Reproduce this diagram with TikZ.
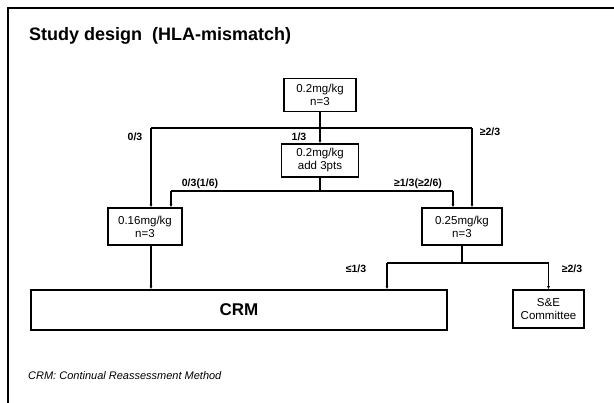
\documentclass[tikz,border=0pt]{standalone}
\usepackage{fontspec}
\setmainfont{Liberation Sans}
\usetikzlibrary{arrows.meta}
\begin{document}
\begin{tikzpicture}[x=1pt,y=-1pt,
  box/.style={draw, line width=1.5pt, inner sep=0pt, align=center,
              font=\fontsize{11.5}{13}\selectfont},
  link/.style={line width=1.2pt},
  tip/.style={link, -{Latex[length=3pt,width=3pt]}},
  lbl/.style={font=\bfseries\fontsize{10.5}{13}\selectfont, inner sep=0pt}]
\useasboundingbox (0,0) rectangle (614,403);
\fill[white] (0,0) rectangle (614,403);
% slide frame (top and left edges)
\draw[line width=1.6pt] (614,8) -- (8,8) -- (8,403);
\node[anchor=base west, inner sep=0pt, font=\bfseries\fontsize{18}{20}\selectfont]
  (title) at (29,41) {Study design\ \ (HLA-mismatch)};

% dose boxes
\node[box, minimum width=72pt, minimum height=33pt] (top)  at (320,95) {0.2mg/kg\\n=3};
\node[box, minimum width=77pt, minimum height=33pt] (mid)  at (320,160.5) {0.2mg/kg\\add 3pts};
\node[box, minimum width=74pt, minimum height=37pt] (low)  at (145,226.5) {0.16mg/kg\\n=3};
\node[box, minimum width=80pt, minimum height=37pt] (high) at (462,226.5) {0.25mg/kg\\n=3};
\node[box, line width=1.7pt, minimum width=416pt, minimum height=40pt,
      font=\bfseries\fontsize{17}{20}\selectfont] (crm) at (239,310) {CRM};
\node[box, minimum width=71pt, minimum height=38pt] (se) at (548.5,309) {S\&E\\Committee};

% first branching
\coordinate (jTop) at (320,128);
\coordinate (jL) at (151,128);
\coordinate (jR) at (472,128);
\draw[link] (top.south) -- (jTop);
\draw[link] (jL) -- (jR);
\draw[tip] (jTop) -- (mid.north);
\draw[tip] (jL) -- (jL |- low.north);
\draw[tip] (jR) -- (jR |- high.north);

% second branching
\coordinate (kMid) at (320,191);
\coordinate (kL) at (171,191);
\coordinate (kR) at (453,191);
\draw[link] (mid.south) -- (kMid);
\draw[link] (kL) -- (kR);
\draw[tip] (kL) -- (kL |- low.north);
\draw[tip] (kR) -- (kR |- high.north);

% to CRM / committee
\draw[tip] ([xshift=6pt]low.south) -- ([xshift=6pt]low.south |- crm.north);
\coordinate (mL) at (387,263);
\coordinate (mS) at (548.5,263);
\draw[link] (high.south) -- (high.south |- mL);
\draw[link] (mL) -- (mS);
\draw[tip] (mL) -- (mL |- crm.north);
\draw[tip] (mS) -- (se.north);

% branch labels
\node[lbl] (l03)    at (135,137) {0/3};
\node[lbl] (l13)    at (299,137) {1/3};
\node[lbl] (lge23)  at (490,132) {≥2/3};
\node[lbl] (l0316)  at (200,184) {0/3(1/6)};
\node[lbl] (lge13)  at (418,184) {≥1/3(≥2/6)};
\node[lbl] (lle13)  at (356,269) {≤1/3};
\node[lbl] (lge23b) at (572,269) {≥2/3};

% footnote
\node[anchor=base west, inner sep=0pt, font=\itshape\fontsize{11}{13}\selectfont]
  (note) at (28,380) {CRM: Continual Reassessment Method};
\end{tikzpicture}
\end{document}
